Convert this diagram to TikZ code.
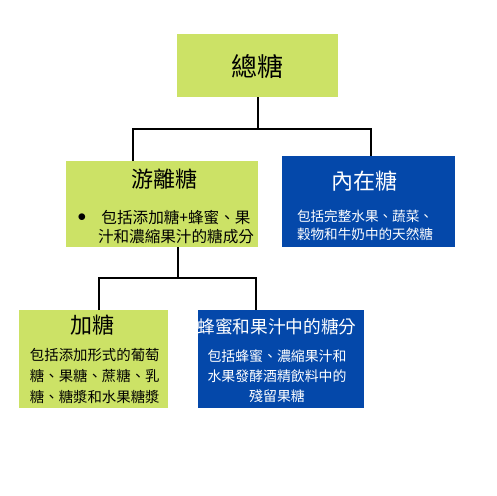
\documentclass[tikz,border=0pt]{standalone}
\usepackage{fontspec}
\setmainfont{Noto Sans CJK TC}
\usepackage{tikz}

\definecolor{limegreen}{RGB}{204,226,102}
\definecolor{royalblue}{RGB}{4,72,170}

\begin{document}
\begin{tikzpicture}[x=1pt, y=-1pt, line width=2pt]

  % Styles
  \tikzset{
    greenbox/.style={rectangle, fill=limegreen, inner sep=0pt, outer sep=0pt},
    bluebox/.style={rectangle, fill=royalblue, inner sep=0pt, outer sep=0pt},
    heading/.style={inner sep=0pt, font=\fontsize{22}{26}\selectfont},
    body/.style={inner sep=0pt},
    link/.style={draw=black, line width=2pt}
  }

  \useasboundingbox (0,0) rectangle (496,496);

  % Boxes
  \node[greenbox, minimum width=161pt, minimum height=63pt] (total) at (257.5,65.5) {};
  \node[greenbox, minimum width=192pt, minimum height=86pt] (free) at (162,204) {};
  \node[bluebox, minimum width=173pt, minimum height=91pt] (intrinsic) at (368.5,201.5) {};
  \node[greenbox, minimum width=149pt, minimum height=98pt] (added) at (93.5,359) {};
  \node[bluebox, minimum width=166pt, minimum height=98pt] (honey) at (281,359) {};

  % Headings
  \node[heading, font=\fontsize{26}{30}\selectfont] (total-t) at (257.5,66.5) {總糖};
  \node[heading] (free-t) at (164,179) {游離糖};
  \node[heading, text=white] (intrinsic-t) at (364,181) {內在糖};
  \node[heading] (added-t) at (92.5,325) {加糖};
  \node[heading, text=white, font=\fontsize{17.7}{21}\selectfont] (honey-t) at (277,327) {蜂蜜和果汁中的糖分};

  % Body texts
  \node[body, font=\fontsize{16}{19}\selectfont] (free-dot) at (82,218) {$\bullet$};
  \node[body, align=center, font=\fontsize{15.6}{19}\selectfont] (free-b) at (176,227.5)
    {包括添加糖+蜂蜜、果\\汁和濃縮果汁的糖成分};
  \node[body, align=left, anchor=west, text=white, font=\fontsize{13.6}{18}\selectfont] (intrinsic-b) at (296,225)
    {包括完整水果、蔬菜、\\穀物和牛奶中的天然糖};
  \node[body, align=left, anchor=west, font=\fontsize{14.4}{21}\selectfont] (added-b) at (29,376)
    {包括添加形式的葡萄\\糖、果糖、蔗糖、乳\\糖、糖漿和水果糖漿};
  \node[body, align=center, text=white, font=\fontsize{13.9}{20}\selectfont] (honey-b) at (277,376)
    {包括蜂蜜、濃縮果汁和\\水果發酵酒精飲料中的\\殘留果糖};

  % Connectors
  \coordinate (split1) at (259,129);
  \draw[link] (total.south) -- (total.south |- split1);
  \draw[link] ([xshift=-29pt]free.north) |- (split1) -| ([xshift=2.5pt]intrinsic.north);

  \coordinate (split2) at (178,278);
  \draw[link] (free.south -| split2) -- (split2);
  \draw[link] ([xshift=5.5pt]added.north) |- (split2) -| ([xshift=-25pt]honey.north);

\end{tikzpicture}
\end{document}
